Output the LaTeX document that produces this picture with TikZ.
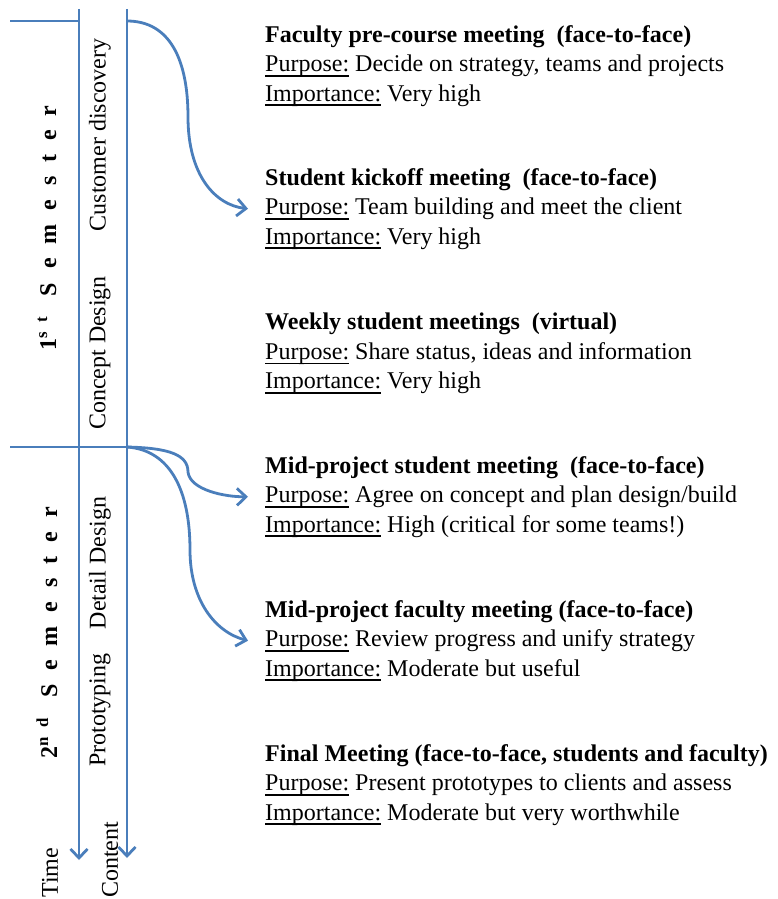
\documentclass[tikz,border=0pt]{standalone}
\usepackage{fontspec}
\setmainfont{Liberation Serif}
\usepackage{tikz}
\usetikzlibrary{arrows.meta}
\definecolor{axisblue}{RGB}{74,126,187}
% underlined field name with a heavier rule
\newcommand{\field}[1]{\leavevmode\setbox0=\hbox{#1}%
  \rlap{\rule[-5pt]{\wd0}{1.8pt}}\box0\relax}

\begin{document}
\begin{tikzpicture}[
    x=1pt, y=-1pt,
    >={Straight Barb[length=9pt,width=17pt,line width=2.8pt]},
    font=\fontsize{24}{29.5}\selectfont,
    axis/.style={draw=axisblue, line width=2.8pt},
    meeting/.style={anchor=north west, align=left, inner sep=0pt},
    phase/.style={rotate=90, inner sep=0pt},
    semester/.style={rotate=90, inner sep=0pt,
                     font=\fontsize{24}{29.5}\selectfont\bfseries
                          \addfontfeature{LetterSpace=58}},
    axislabel/.style={rotate=90, anchor=west, inner sep=0pt},
]
\useasboundingbox (0,0) rectangle (777,899);

% ---------------- Time and content axes ---------------------------------
\coordinate (timeTop)    at (79,9);
\coordinate (timeEnd)    at (79,860);
\coordinate (contentTop) at (127,9);
\coordinate (contentEnd) at (127,858);
\coordinate (semOne)     at (10,21);
\coordinate (semTwo)     at (10,447);
\coordinate (branchOne)  at (127,21);
\coordinate (branchTwo)  at (127,447);

\draw[axis, ->] (timeTop) -- (timeEnd);
\draw[axis, ->] (contentTop) -- (contentEnd);

% semester boundaries
\draw[axis] (semOne) -- (semOne -| timeTop);
\draw[axis] (semTwo) -- (branchTwo);

\node[axislabel] (time)    at (50,898)  {Time};
\node[axislabel] (content) at (110,898) {Content};

% ---------------- Semesters and project phases --------------------------
\node[semester] (sem1) at (47,228) {1\textsuperscript{st} Semester};
\node[semester] (sem2) at (47,633) {2\textsuperscript{nd} Semester};

\node[phase] (discovery) at (100,135) {Customer discovery};
\node[phase] (concept)   at (100,353) {Concept Design};
\node[phase] (detail)    at (100,563) {Detail Design};
\node[phase] (proto)     at (100,710) {Prototyping};

% ---------------- Meetings ----------------------------------------------
\node[meeting] (faculty) at (265,25)
    {\textbf{Faculty pre-course meeting\ \ (face-to-face)}\\
     \field{Purpose:} Decide on strategy, teams and projects\\
     \field{Importance:} Very high};

\node[meeting] (kickoff) at (265,168)
    {\textbf{Student kickoff meeting\ \ (face-to-face)}\\
     \field{Purpose:} Team building and meet the client\\
     \field{Importance:} Very high};

\node[meeting] (weekly) at (265,313)
    {\textbf{Weekly student meetings\ \ (virtual)}\\
     \field{Purpose:} Share status, ideas and information\\
     \field{Importance:} Very high};

\node[meeting] (midstudent) at (265,456)
    {\textbf{Mid-project student meeting\ \ (face-to-face)}\\
     \field{Purpose:} Agree on concept and plan design/build\\
     \field{Importance:} High (critical for some teams!)};

\node[meeting] (midfaculty) at (265,600)
    {\textbf{Mid-project faculty meeting (face-to-face)}\\
     \field{Purpose:} Review progress and unify strategy\\
     \field{Importance:} Moderate but useful};

\node[meeting] (final) at (265,744)
    {\textbf{Final Meeting (face-to-face, students and faculty)}\\
     \field{Purpose:} Present prototypes to clients and assess\\
     \field{Importance:} Moderate but very worthwhile};

% ---------------- Branches from the content axis ------------------------
\draw[axis, ->] (branchOne)
    .. controls (170,21) and (188,60) .. (188,117)
    .. controls (188,175) and (215,205) .. ([xshift=-17pt]kickoff.west);

\draw[axis, ->] (branchTwo)
    .. controls (170,448) and (188,455) .. (188,472)
    .. controls (190,490) and (225,497) .. ([xshift=-17pt]midstudent.west);

\draw[axis, ->] (branchTwo)
    .. controls (170,450) and (190,490) .. (190,550)
    .. controls (190,600) and (215,632) .. ([xshift=-17pt]midfaculty.west);

\end{tikzpicture}
\end{document}
